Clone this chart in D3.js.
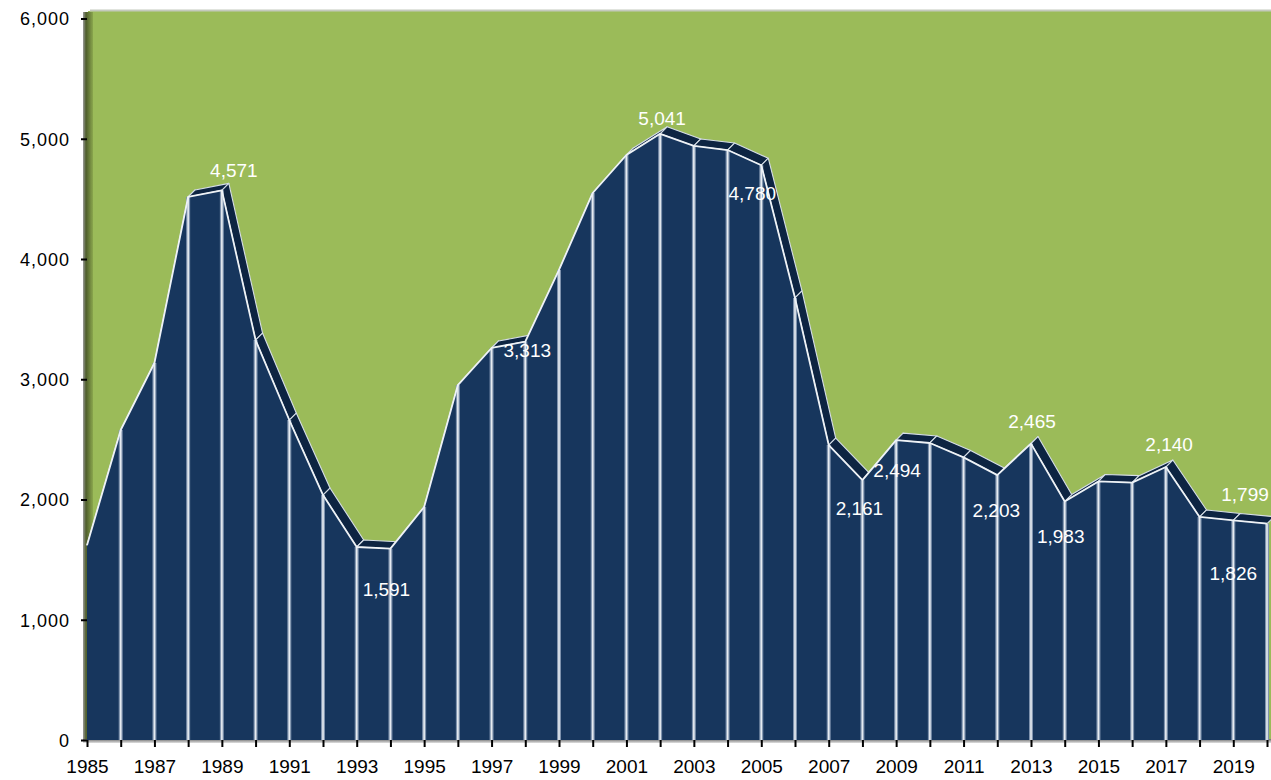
<!DOCTYPE html>
<html>
<head>
<meta charset="utf-8">
<title>3D area chart</title>
<script src="https://cdnjs.cloudflare.com/ajax/libs/d3/7.8.5/d3.min.js"></script>
<style>
  body { margin: 0; background: #fff; }
  svg { display: block; font-family: "Liberation Sans", Arial, sans-serif; }
</style>
</head>
<body>
<div id="chart"></div>
<script>
// values
var years = d3.range(1985, 2021);
var values = [1620, 2578, 3135, 4516, 4571, 3326, 2661, 2037, 1605, 1591,
              1938, 2952, 3260, 3313, 3909, 4549, 4865, 5041, 4940, 4906,
              4780, 3676, 2453, 2161, 2494, 2470, 2350, 2203, 2465, 1983,
              2150, 2140, 2270, 1855, 1826, 1799];
var yTicks = [0, 1000, 2000, 3000, 4000, 5000, 6000];
var xLabelYears = d3.range(1985, 2021, 2);
// data labels shown in the chart
var labelYears = [1989, 1994, 1998, 2002, 2005, 2008, 2009, 2012, 2013, 2014, 2016, 2019, 2020];

var width = 1271, height = 780;
var data = years.map(function(y, i) { return { year: y, value: values[i] }; });

var svg = d3.select("#chart").append("svg")
  .attr("width", width)
  .attr("height", height);

var x = d3.scaleLinear().domain([1985, 2020]).range([87, 1267]);
var y = d3.scaleLinear().domain([0, 6000]).range([740, 18.5]);

// depth of the 3d effect
var dx = 7, dy = -7;

var defs = svg.append("defs");
var wallGrad = defs.append("linearGradient").attr("id", "wall")
  .attr("x1", "0").attr("x2", "1").attr("y1", "0").attr("y2", "0");
wallGrad.append("stop").attr("offset", "0").attr("stop-color", "#9a9a9a");
wallGrad.append("stop").attr("offset", "0.3").attr("stop-color", "#4f5e2c");
wallGrad.append("stop").attr("offset", "1").attr("stop-color", "#8aa64d");

var floorGrad = defs.append("linearGradient").attr("id", "floor")
  .attr("x1", "0").attr("x2", "0").attr("y1", "0").attr("y2", "1");
floorGrad.append("stop").attr("offset", "0").attr("stop-color", "#6d6d6d");
floorGrad.append("stop").attr("offset", "1").attr("stop-color", "#e0e0e0");

// back wall
svg.append("rect")
  .attr("x", 88).attr("y", 11)
  .attr("width", width - 88).attr("height", 729)
  .attr("fill", "#9bbb59");
svg.append("line")
  .attr("x1", 90).attr("x2", width).attr("y1", 10.5).attr("y2", 10.5)
  .attr("stroke", "#c4c9bd").attr("stroke-width", 2);
// side wall
svg.append("rect")
  .attr("x", 83).attr("y", 12)
  .attr("width", 10).attr("height", 728)
  .attr("fill", "url(#wall)");

// floor
svg.append("rect")
  .attr("x", 83).attr("y", 739)
  .attr("width", width - 83).attr("height", 4)
  .attr("fill", "url(#floor)");

// top surface strips
var strips = svg.append("g");
for (var i = 0; i < data.length - 1; i++) {
  var a = data[i], b = data[i + 1];
  var pts = [
    [x(a.year), y(a.value)],
    [x(b.year), y(b.value)],
    [x(b.year) + dx, y(b.value) + dy],
    [x(a.year) + dx, y(a.value) + dy]
  ];
  strips.append("polygon")
    .attr("points", pts.map(function(p) { return p.join(","); }).join(" "))
    .attr("fill", "#0d2442")
    .attr("stroke", "#d5dde7")
    .attr("stroke-width", 1.1)
    .attr("stroke-linejoin", "round");
}

// front face
var area = d3.area()
  .x(function(d) { return x(d.year); })
  .y0(y(0))
  .y1(function(d) { return y(d.value); });

svg.append("path")
  .datum(data)
  .attr("d", area)
  .attr("fill", "#17365d");

// vertical lines at every year
var vlines = svg.append("g");
vlines.selectAll("line.glow")
  .data(data.slice(1))
  .enter().append("line")
  .attr("x1", function(d) { return x(d.year); })
  .attr("x2", function(d) { return x(d.year); })
  .attr("y1", function(d) { return y(d.value); })
  .attr("y2", y(0))
  .attr("stroke", "#7e92ad")
  .attr("stroke-width", 4);
vlines.selectAll("line.core")
  .data(data.slice(1))
  .enter().append("line")
  .attr("x1", function(d) { return x(d.year); })
  .attr("x2", function(d) { return x(d.year); })
  .attr("y1", function(d) { return y(d.value); })
  .attr("y2", y(0))
  .attr("stroke", "#e6ebf1")
  .attr("stroke-width", 1.6);

// front top edge
var line = d3.line()
  .x(function(d) { return x(d.year); })
  .y(function(d) { return y(d.value); });
svg.append("path")
  .datum(data)
  .attr("d", line)
  .attr("fill", "none")
  .attr("stroke", "#eef2f6")
  .attr("stroke-width", 1.8)
  .attr("stroke-linejoin", "round");

// axes
var yAxis = svg.append("g")
  .attr("transform", "translate(87,0)")
  .call(d3.axisLeft(y).tickValues(yTicks).tickSize(6).tickPadding(11).tickFormat(d3.format(",")));
yAxis.select(".domain").remove();
yAxis.selectAll(".tick line").attr("stroke", "#000").attr("stroke-width", 2);
yAxis.selectAll(".tick text")
  .attr("fill", "#000")
  .style("font-size", "18px")
  .style("letter-spacing", "1px")
  .attr("dy", "0.36em");

var xAxis = svg.append("g")
  .attr("transform", "translate(0,740)")
  .call(d3.axisBottom(x).tickValues(years).tickSize(7)
    .tickFormat(function(d) { return xLabelYears.indexOf(d) >= 0 ? String(d) : ""; }));
xAxis.select(".domain").remove();
xAxis.selectAll(".tick line").attr("stroke", "#000").attr("stroke-width", 2);
xAxis.selectAll(".tick text")
  .attr("fill", "#000")
  .attr("y", 33)
  .attr("dy", 0)
  .style("font-size", "19px");

// data labels, offsets from the point in pixels
var labelOffset = {
  1989: [12, -13], 1994: [-4, 47], 1998: [2, 15], 2002: [2, -9],
  2005: [-9, 35], 2008: [-3, 35], 2009: [1, 37], 2012: [-1, 42],
  2013: [1, -16], 2014: [-4, 41], 2016: [37, -32], 2019: [0, 60],
  2020: [-22, -23]
};
var fmt = d3.format(",");
svg.append("g").selectAll("text")
  .data(data.filter(function(d) { return labelYears.indexOf(d.year) >= 0; }))
  .enter().append("text")
  .attr("x", function(d) { return x(d.year) + labelOffset[d.year][0]; })
  .attr("y", function(d) { return y(d.value) + labelOffset[d.year][1]; })
  .attr("text-anchor", "middle")
  .attr("fill", "#fff")
  .style("font-size", "19px")
  .text(function(d) { return fmt(d.value); });
</script>
</body>
</html>
